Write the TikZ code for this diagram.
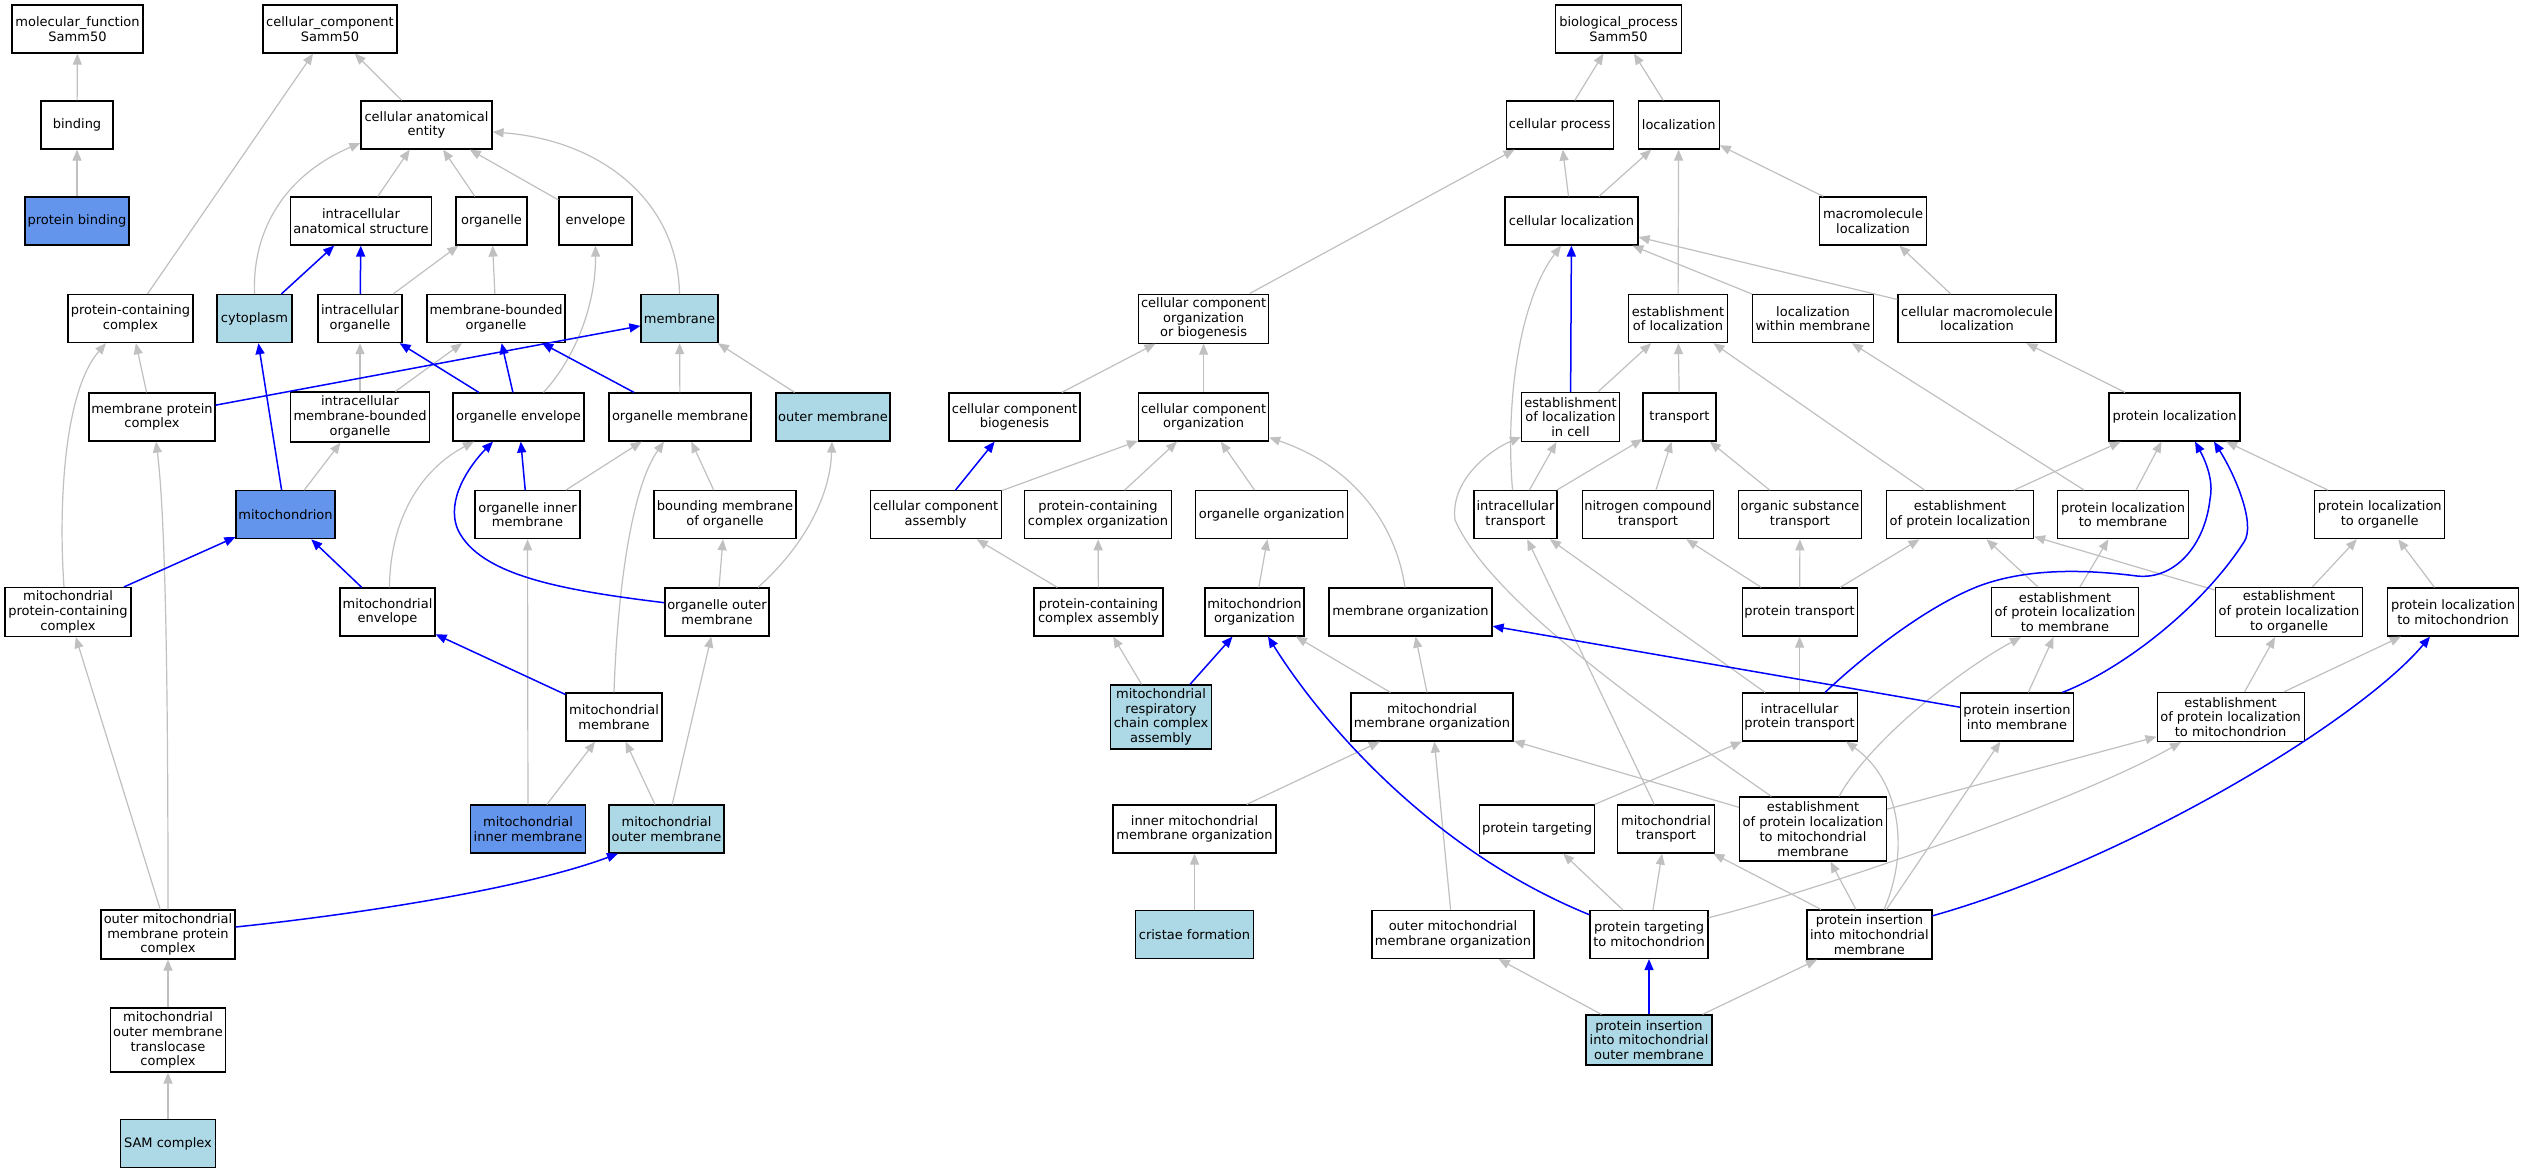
\documentclass[tikz,border=0pt]{standalone}
\usepackage{fontspec}
\setmainfont{DejaVu Sans}
\usetikzlibrary{arrows.meta}
\definecolor{lightbluec}{HTML}{ADD8E6}
\definecolor{cornflowerc}{HTML}{6495ED}
\definecolor{edgegray}{HTML}{C0C0C0}
\definecolor{edgeblue}{HTML}{0000FF}
\newcommand{\gonodefont}{\fontsize{13pt}{14.8pt}\selectfont}
\tikzset{
  box/.style={draw=black, line width=1.2pt, fill=white, inner sep=0pt, align=center,
              font=\gonodefont, minimum height=48pt},
  lbox/.style={box, fill=lightbluec},
  cbox/.style={box, fill=cornflowerc},
  ge/.style={draw=edgegray, line width=1.2pt, -{Triangle[length=11pt,width=9pt]}},
  be/.style={draw=edgeblue, line width=1.5pt, -{Triangle[length=11pt,width=9pt]}},
}
\begin{document}
\begin{tikzpicture}[x=1pt,y=-1pt]
\useasboundingbox[fill=white] (0,0) rectangle (2524,1173);
% ---------------- left part ----------------
\node[box, minimum width=131pt] (mf) at (77.5,29) {molecular\_function\\Samm50};
\node[box, minimum width=134pt] (cc) at (330,29) {cellular\_component\\Samm50};
\node[box, minimum width=72pt] (bind) at (77,125) {binding};
\node[box, minimum width=131pt] (cae) at (426.5,125) {cellular anatomical\\entity};
\node[cbox, minimum width=104pt] (pb) at (77,221) {protein binding};
\node[box, minimum width=141pt] (ias) at (361,221) {intracellular\\anatomical structure};
\node[box, minimum width=71pt] (org) at (491.5,221) {organelle};
\node[box, minimum width=73pt] (env) at (595.5,221) {envelope};
\node[box, minimum width=125pt] (pcc) at (130.5,318.6) {protein-containing\\complex};
\node[lbox, minimum width=75pt] (cyto) at (254.5,318.6) {cytoplasm};
\node[box, minimum width=84pt] (io) at (360,318.6) {intracellular\\organelle};
\node[box, minimum width=138pt] (mbo) at (496,318.6) {membrane-bounded\\organelle};
\node[lbox, minimum width=77pt] (mem) at (679.5,318.6) {membrane};
\node[box, minimum width=126pt] (mpc) at (152,417) {membrane protein\\complex};
\node[box, minimum width=139pt, minimum height=50pt] (imbo) at (360,417) {intracellular\\membrane-bounded\\organelle};
\node[box, minimum width=131pt] (oenv) at (518.5,417) {organelle envelope};
\node[box, minimum width=142pt] (omem) at (680,417) {organelle membrane};
\node[lbox, minimum width=114pt] (outm) at (833,417) {outer membrane};
\node[cbox, minimum width=99pt] (mito) at (285.5,514.7) {mitochondrion};
\node[box, minimum width=105pt] (oim) at (527.5,514.7) {organelle inner\\membrane};
\node[box, minimum width=142pt] (bmo) at (725,514.7) {bounding membrane\\of organelle};
\node[box, minimum width=126pt, minimum height=49pt] (mpcc) at (68,612) {mitochondrial\\protein-containing\\complex};
\node[box, minimum width=95pt] (menv) at (387.5,612) {mitochondrial\\envelope};
\node[box, minimum width=104pt] (oom) at (717,612) {organelle outer\\membrane};
\node[box, minimum width=96pt] (mmem) at (614,717) {mitochondrial\\membrane};
\node[cbox, minimum width=114.5pt] (mim) at (528,829) {mitochondrial\\inner membrane};
\node[lbox, minimum width=115pt] (mom) at (666.5,829) {mitochondrial\\outer membrane};
\node[box, minimum width=134pt, minimum height=49pt] (ompc) at (168,934.5) {outer mitochondrial\\membrane protein\\complex};
\node[box, minimum width=114.5pt, minimum height=64pt] (tom) at (168,1040) {mitochondrial\\outer membrane\\translocase\\complex};
\node[lbox, minimum width=95pt] (sam) at (168,1143.5) {SAM complex};
% ---------------- right part ----------------
\node[box, minimum width=126pt] (bp) at (1618.5,29) {biological\_process\\Samm50};
\node[box, minimum width=107pt] (cp) at (1559.7,125) {cellular process};
\node[box, minimum width=81pt] (loc) at (1678.7,125) {localization};
\node[box, minimum width=133pt] (cl) at (1571.5,221) {cellular localization};
\node[box, minimum width=107pt] (ml) at (1873,221) {macromolecule\\localization};
\node[box, minimum width=130pt, minimum height=49pt] (ccob) at (1203.6,318.6) {cellular component\\organization\\or biogenesis};
\node[box, minimum width=99pt] (eloc) at (1678,318.6) {establishment\\of localization};
\node[box, minimum width=120.5pt] (lwm) at (1813,318.6) {localization\\within membrane};
\node[box, minimum width=158pt] (cml) at (1977,318.6) {cellular macromolecule\\localization};
\node[box, minimum width=131pt] (ccb) at (1014.5,417) {cellular component\\biogenesis};
\node[box, minimum width=130pt] (cco) at (1203.6,417) {cellular component\\organization};
\node[box, minimum width=98pt, minimum height=49pt] (elc) at (1570.5,417) {establishment\\of localization\\in cell};
\node[box, minimum width=73pt] (tr) at (1679.5,417) {transport};
\node[box, minimum width=131pt] (pl) at (2174.5,417) {protein localization};
\node[box, minimum width=131pt] (cca) at (935.6,514.7) {cellular component\\assembly};
\node[box, minimum width=147pt] (pcco) at (1098,514.7) {protein-containing\\complex organization};
\node[box, minimum width=152pt] (oorg) at (1271.7,514.7) {organelle organization};
\node[box, minimum width=83pt] (it) at (1515.5,514.7) {intracellular\\transport};
\node[box, minimum width=131pt] (nct) at (1648,514.7) {nitrogen compound\\transport};
\node[box, minimum width=123pt] (ost) at (1800,514.7) {organic substance\\transport};
\node[box, minimum width=147pt] (epl) at (1960,514.7) {establishment\\of protein localization};
\node[box, minimum width=131pt] (plm) at (2123,514.7) {protein localization\\to membrane};
\node[box, minimum width=130pt] (plo) at (2379.7,514.7) {protein localization\\to organelle};
\node[box, minimum width=129pt] (pcca) at (1098.5,612) {protein-containing\\complex assembly};
\node[box, minimum width=99pt] (mo) at (1254.4,612) {mitochondrion\\organization};
\node[box, minimum width=163pt] (memo) at (1410.5,612) {membrane organization};
\node[box, minimum width=115pt] (pt) at (1799.6,612) {protein transport};
\node[box, minimum width=147pt, minimum height=49pt] (eplm) at (2065,612) {establishment\\of protein localization\\to membrane};
\node[box, minimum width=147.5pt, minimum height=49pt] (eplo) at (2289,612) {establishment\\of protein localization\\to organelle};
\node[box, minimum width=130.5pt] (plmi) at (2453,612) {protein localization\\to mitochondrion};
\node[lbox, minimum width=101pt, minimum height=64pt] (mrcca) at (1161,717) {mitochondrial\\respiratory\\chain complex\\assembly};
\node[box, minimum width=162pt] (mmo) at (1432,717) {mitochondrial\\membrane organization};
\node[box, minimum width=115pt] (ipt) at (1799.6,717) {intracellular\\protein transport};
\node[box, minimum width=113pt] (pim) at (2017,717) {protein insertion\\into membrane};
\node[box, minimum width=147pt, minimum height=49pt] (eplmi) at (2230.6,717) {establishment\\of protein localization\\to mitochondrion};
\node[box, minimum width=163pt] (immo) at (1194.5,829) {inner mitochondrial\\membrane organization};
\node[box, minimum width=114.5pt] (ptg) at (1537,829) {protein targeting};
\node[box, minimum width=97pt] (mt) at (1666,829) {mitochondrial\\transport};
\node[box, minimum width=147pt, minimum height=64pt] (eplmm) at (1813,829) {establishment\\of protein localization\\to mitochondrial\\membrane};
\node[lbox, minimum width=118pt] (cf) at (1194.5,934.5) {cristae formation};
\node[box, minimum width=162pt] (ommo) at (1453,934.5) {outer mitochondrial\\membrane organization};
\node[box, minimum width=118pt] (ptm) at (1649,934.5) {protein targeting\\to mitochondrion};
\node[box, minimum width=125pt, minimum height=49pt] (pimm) at (1869.4,934.5) {protein insertion\\into mitochondrial\\membrane};
\node[lbox, minimum width=126pt, minimum height=50pt] (pimom) at (1649,1040) {protein insertion\\into mitochondrial\\outer membrane};

% ---------------- left edges ----------------
\draw[ge] (bind) -- (mf);
\draw[ge] (pb) -- (bind);
\draw[ge] (cae) -- (cc);
\draw[ge] (pcc) -- (cc);
\draw[ge] (ias) -- (cae);
\draw[ge] (org) -- (cae);
\draw[ge] (env) -- (cae);
\draw[ge] (io) -- (org);
\draw[ge] (mbo) -- (org);
\draw[ge] (mpc) -- (pcc);
\draw[ge] (imbo) -- (io);
\draw[ge] (imbo) -- (mbo);
\draw[ge] (omem) -- (mem);
\draw[ge] (outm) -- (mem);
\draw[ge] (mito) -- (imbo);
\draw[ge] (oim) -- (omem);
\draw[ge] (bmo) -- (omem);
\draw[ge] (oom) -- (bmo);
\draw[ge] (mim) -- (oim);
\draw[ge] (mim) -- (mmem);
\draw[ge] (mom) -- (mmem);
\draw[ge] (mom) -- (oom);
\draw[ge] (ompc) -- (mpcc);
\draw[ge] (tom) -- (ompc);
\draw[ge] (sam) -- (tom);
\draw[ge] (cyto.north) .. controls (252,230) and (285,175) .. ([yshift=-18pt]cae.west);
\draw[ge] (mem.north) .. controls (678,200) and (600,140) .. ([yshift=-7pt]cae.east);
\draw[ge] ([xshift=-4pt]mpcc.north) .. controls (58,500) and (65,390) .. ([xshift=-24.5pt]pcc.south);
\draw[ge] ([xshift=25pt]oenv.north) .. controls (578,355) and (596,300) .. (env.south);
\draw[ge] ([xshift=2pt]menv.north) .. controls (390,520) and (420,470) .. ([xshift=-44.5pt]oenv.south);
\draw[ge] (mmem.north) .. controls (617,600) and (630,490) .. ([xshift=-16pt]omem.south);
\draw[ge] ([xshift=41pt]oom.north) .. controls (800,550) and (830,500) .. ([xshift=-1pt]outm.south);
\draw[ge] (ompc.north) .. controls (168,700) and (166,520) .. ([xshift=4pt]mpc.south);
\draw[be] (cyto) -- (ias);
\draw[be] (io) -- (ias);
\draw[be] (mpc) -- (mem);
\draw[be] (oenv) -- (io);
\draw[be] (oenv) -- (mbo);
\draw[be] (omem) -- (mbo);
\draw[be] (mito) -- (cyto);
\draw[be] (oim) -- (oenv);
\draw[be] (mpcc) -- (mito);
\draw[be] (menv) -- (mito);
\draw[be] (mmem) -- (menv);
\draw[be] ([yshift=9.3pt]oom.west) .. controls (560,590) and (480,575) .. (458,530)
          .. controls (445,500) and (470,465) .. ([xshift=-25.5pt]oenv.south);
\draw[be] ([yshift=7.5pt]ompc.east) .. controls (350,915) and (520,890) .. ([xshift=-48.5pt]mom.south);

% ---------------- right edges ----------------
\draw[ge] (cp) -- (bp);
\draw[ge] (loc) -- (bp);
\draw[ge] (cl) -- (cp);
\draw[ge] (cl) -- (loc);
\draw[ge] (ccob) -- (cp);
\draw[ge] (ml) -- (loc);
\draw[ge] (eloc) -- (loc);
\draw[ge] (lwm) -- (cl);
\draw[ge] (cml) -- (cl);
\draw[ge] (cml) -- (ml);
\draw[ge] (ccb) -- (ccob);
\draw[ge] (cco) -- (ccob);
\draw[ge] (elc) -- (eloc);
\draw[ge] (tr) -- (eloc);
\draw[ge] (pl) -- (cml);
\draw[ge] (cca) -- (cco);
\draw[ge] (pcco) -- (cco);
\draw[ge] (oorg) -- (cco);
\draw[ge] (it) -- (elc);
\draw[ge] (it) -- (tr);
\draw[ge] (nct) -- (tr);
\draw[ge] (ost) -- (tr);
\draw[ge] (epl) -- (eloc);
\draw[ge] (epl) -- (pl);
\draw[ge] (plm) -- (lwm);
\draw[ge] (plm) -- (pl);
\draw[ge] (plo) -- (pl);
\draw[ge] (pcca) -- (pcco);
\draw[ge] (pcca) -- (cca);
\draw[ge] (mo) -- (oorg);
\draw[ge] (mrcca) -- (pcca);
\draw[ge] (mmo) -- (mo);
\draw[ge] (mmo) -- (memo);
\draw[ge] (immo) -- (mmo);
\draw[ge] (cf) -- (immo);
\draw[ge] (ommo) -- (mmo);
\draw[ge] (pimom) -- (ommo);
\draw[ge] (pimom) -- (pimm);
\draw[ge] (ptm) -- (ptg);
\draw[ge] (ptm) -- (mt);
\draw[ge] (ptg) -- (ipt);
\draw[ge] (mt) -- (it);
\draw[ge] (ipt) -- (pt);
\draw[ge] (ipt) -- (it);
\draw[ge] (pt) -- (epl);
\draw[ge] (pt) -- (ost);
\draw[ge] (pt) -- (nct);
\draw[ge] (eplm) -- (epl);
\draw[ge] (eplm) -- (plm);
\draw[ge] (eplo) -- (epl);
\draw[ge] (eplo) -- (plo);
\draw[ge] (plmi) -- (plo);
\draw[ge] (pim) -- (eplm);
\draw[ge] (eplmi) -- (eplo);
\draw[ge] (eplmi) -- (plmi);
\draw[ge] (pimm) -- (eplmm);
\draw[ge] (pimm) -- (mt);
\draw[ge] (pimm) -- (pim);
\draw[ge] (eplmm) -- (eplmi);
\draw[ge] (eplmm) -- (mmo);
\draw[ge] ([xshift=-5.5pt]memo.north) .. controls (1395,520) and (1350,465) .. ([yshift=-20.5pt]cco.east);
\draw[ge] ([xshift=-3pt]it.north) .. controls (1505,400) and (1520,300) .. ([xshift=-10.5pt]cl.south);
\draw[ge] ([xshift=-41.6pt]eplmm.north) .. controls (1650,712) and (1490,600) .. (1455,520)
          .. controls (1450,480) and (1490,450) .. ([yshift=-20pt]elc.west);
\draw[ge] ([yshift=16.8pt]ptm.east) .. controls (1820,890) and (2080,800) .. ([xshift=-49.6pt]eplmi.south);
\draw[ge] ([xshift=14.6pt]pimm.north) .. controls (1910,850) and (1900,780) .. ([xshift=46.4pt]ipt.south);
\draw[ge] ([xshift=26pt]eplmm.north) .. controls (1870,740) and (1960,670) .. ([xshift=-44pt]eplm.south);
\draw[be] (elc) -- (cl);
\draw[be] (cca) -- (ccb);
\draw[be] (mrcca) -- (mo);
\draw[be] (pimom) -- (ptm);
\draw[be] (pim) -- (memo);
\draw[be] ([yshift=19.8pt]ptm.west) .. controls (1430,850) and (1320,720) .. ([xshift=13.6pt]mo.south);
\draw[be] ([xshift=45.4pt]pim.north) .. controls (2120,670) and (2200,610) .. (2244,542)
          .. controls (2256,524) and (2235,475) .. ([xshift=39.5pt]pl.south);
\draw[be] ([xshift=25.4pt]ipt.north) .. controls (1870,650) and (1930,605) .. (1979,586)
          .. controls (2030,567) and (2090,570) .. (2137,576)
          .. controls (2175,580) and (2205,545) .. (2210,499)
          .. controls (2214,480) and (2205,460) .. ([xshift=20.5pt]pl.south);
\draw[be] ([yshift=18.7pt]pimm.east) .. controls (2130,860) and (2360,720) .. ([xshift=-23pt]plmi.south);
\end{tikzpicture}
\end{document}
